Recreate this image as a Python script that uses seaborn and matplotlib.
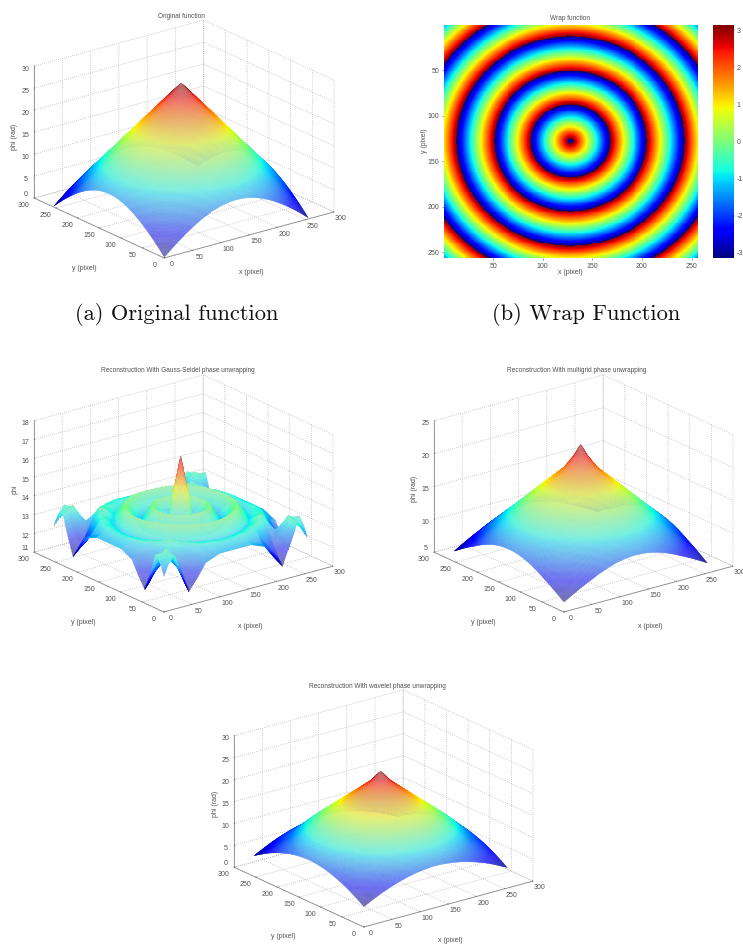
import numpy as np
import matplotlib
matplotlib.use("Agg")
import matplotlib.pyplot as plt
import seaborn as sns
from mpl_toolkits.mplot3d import proj3d

fig_w = 743
fig_h = 944

# radial height profiles (r in pixels from the centre)
orig_r = [0, 45, 90, 135, 181]
orig_phi = [29.5, 22.2, 14.8, 7.5, 0.0]

multi_r = [0, 10, 25, 62, 95, 128, 150, 170, 181]
multi_phi = [23.7, 21.8, 19.8, 16.5, 13.5, 10.6, 8.7, 7.2, 6.4]

wave_r = [0, 15, 39, 72, 100, 128, 155, 181]
wave_phi = [25.3, 22.8, 20.0, 16.2, 13.0, 9.4, 7.0, 4.5]

gs_r = [0, 5, 10, 15, 20, 28, 34, 40, 48, 58, 68, 78, 87, 96, 106, 115, 125, 134, 145, 153, 165, 181]
gs_phi = [17.0, 16.0, 15.0, 14.0, 13.2, 13.2, 13.9, 14.3, 13.8, 13.3, 13.8, 14.3, 13.9, 13.5, 13.9, 14.2, 13.8, 13.4, 13.8, 14.2, 13.6, 13.0]
# Gauss-Seidel surface along its four edges
gs_edge_t = [0, 8, 20, 30, 45, 60, 75, 100, 128, 156, 181, 196, 211, 226, 236, 248, 256]
gs_edge_phi = [12.8, 13.4, 13.9, 12.9, 11.7, 12.3, 13.0, 13.3, 13.3, 13.3, 13.0, 12.3, 11.7, 12.9, 13.9, 13.4, 12.8]
gs_edge_d = [0, 8, 20, 35, 55]
gs_edge_w = [1.0, 0.85, 0.5, 0.2, 0.0]

# wrap function: radii where the phase jumps and its unwrapped value there
wrap_r = [0, 3, 40, 77, 115, 153, 191]
wrap_phase = [3.6, 3.14, -3.14, -9.42, -15.7, -21.98, -28.26]

xy_ticks = [0, 50, 100, 150, 200, 250, 300]
img_ticks = [50, 100, 150, 200, 250]
cbar_ticks = [-3, -2, -1, 0, 1, 2, 3]

sns.set_style("white", {"grid.linestyle": (0, (1, 2)), "grid.color": "#a0a0a0"})
plt.rcParams["font.family"] = ["Liberation Sans", "DejaVu Sans"]
plt.rcParams["grid.linewidth"] = 0.5
plt.rcParams["axes.unicode_minus"] = False

fig = plt.figure(figsize=(fig_w / 100, fig_h / 100), dpi=100)
text_color = "#505050"

grid = np.arange(1, 257, 2)
X, Y = np.meshgrid(grid, grid)
R = np.hypot(X - 128.5, Y - 128.5)

elev = np.radians(20.7)
azim = np.radians(-127.5)
view = np.array([np.cos(elev) * np.cos(azim), np.cos(elev) * np.sin(azim), np.sin(elev)])


def label(x, y, s, size=5, rotation=0):
    fig.text(x / fig_w, 1 - y / fig_h, s, ha="center", va="center", fontsize=size,
             color=text_color, rotation=rotation)


def place_axes(ax, left, origin, right):
    # fit the square 3d axes so the floor corners land on these pixels
    M = ax.get_proj()
    xs = [0, 0, 300]
    ys = [300, 0, 0]
    zs = [ax.get_zlim()[0]] * 3
    u, v, _ = proj3d.proj_transform(np.array(xs, float), np.array(ys, float), np.array(zs, float), M)
    x0, x1 = ax.viewLim.intervalx
    y0, y1 = ax.viewLim.intervaly
    fu = (u - x0) / (x1 - x0)
    fv = (v - y0) / (y1 - y0)
    s = (right[0] - left[0]) / (fu[2] - fu[0])
    px_left = left[0] - fu[0] * s
    px_bottom = (fig_h - origin[1]) - fv[1] * s
    ax.set_position([px_left / fig_w, px_bottom / fig_h, s / fig_w, s / fig_h])


def mesh_colors(Z, z_ticks):
    # the dense mesh lines mix with the paper: paler where the surface faces the viewer,
    # saturated where it turns away and the lines pile up
    jet = plt.get_cmap("jet")((Z - Z.min()) / (Z.max() - Z.min()))
    z_scale = 141 / (z_ticks[-1] - z_ticks[0])
    xy_scale = 214 / 300
    gy, gx = np.gradient(Z * z_scale, 2 * xy_scale)
    norm = np.sqrt(gx ** 2 + gy ** 2 + 1)
    facing = np.abs(-gx * view[0] - gy * view[1] + view[2]) / norm
    cover = np.clip(0.18 / np.maximum(facing, 0.01) + 0.3, 0.45, 1.0)[..., None]
    out = jet.copy()
    out[..., :3] = jet[..., :3] * cover + 0.87 * (1 - cover)
    return out


def surface(Z, z_ticks, left, origin, right, title, zlabel, title_pos, zlabel_x):
    ax = fig.add_subplot(projection="3d", proj_type="ortho")
    ax.patch.set_alpha(0)
    ax.view_init(elev=20.7, azim=-127.5)
    ax.set_box_aspect((214, 214, 141))
    ax.set_xlim(0, 300)
    ax.set_ylim(0, 300)
    ax.set_zlim(z_ticks[0], z_ticks[-1])
    ax.set_xticks(xy_ticks)
    ax.set_yticks(xy_ticks)
    ax.set_zticks(z_ticks)
    ax.tick_params(labelsize=5, pad=-1.5, colors=text_color)
    ax.tick_params(axis="y", pad=-0.8)
    ax.tick_params(axis="z", pad=-4.5)
    for axis in [ax.xaxis, ax.yaxis, ax.zaxis]:
        axis.set_pane_color((1, 1, 1, 0))
        axis.pane.set_edgecolor((1, 1, 1, 0))
        axis.line.set_color("#8c8c8c")
        axis.line.set_linewidth(0.6)
        axis._axinfo["tick"]["linewidth"] = {True: 0.4, False: 0.4}
        axis._axinfo["tick"]["inward_factor"] = 0.0
        axis._axinfo["tick"]["outward_factor"] = 0.08
    for axis in [ax.xaxis, ax.yaxis]:
        for tick in axis.get_major_ticks():
            tick.label1.set_va("bottom")
    ax.zaxis.get_major_ticks()[0].label1.set_va("bottom")
    ax.plot_surface(X, Y, Z, rstride=1, cstride=1, facecolors=mesh_colors(Z, z_ticks),
                    shade=False, linewidth=0.25, antialiased=True)
    place_axes(ax, left, origin, right)
    label(title_pos[0], title_pos[1], title, size=4.7)
    label(origin[0] - 80, origin[1] + 10, "y (pixel)")
    label(origin[0] + 87, origin[1] + 14, "x (pixel)")
    label(zlabel_x, left[1] - 62, zlabel, rotation=90)
    return ax


z_orig = np.interp(R, orig_r, orig_phi)
z_multi = np.interp(R, multi_r, multi_phi)
z_wave = np.interp(R, wave_r, wave_phi)

# Gauss-Seidel: rings from the radial profile, pulled to the edge profile near the border
z_gs = np.interp(R, gs_r, gs_phi)
d_left, d_right, d_low, d_high = X - 1, 256 - X, Y - 1, 256 - Y
dist = np.minimum.reduce([d_left, d_right, d_low, d_high])
along = np.where(np.minimum(d_left, d_right) < np.minimum(d_low, d_high), Y, X)
w = np.interp(dist, gs_edge_d, gs_edge_w)
z_gs = z_gs * (1 - w) + np.interp(along, gs_edge_t, gs_edge_phi) * w

surface(z_orig, [0, 5, 10, 15, 20, 25, 30], (34, 199), (164, 258), (334, 212),
        "Original function", "phi (rad)", (181, 16), 15)
surface(z_gs, [11, 12, 13, 14, 15, 16, 17, 18], (34, 551), (163, 612), (333, 567),
        "Reconstruction With Gauss-Seidel phase unwrapping", "phi", (178, 371), 15)
surface(z_multi, [5, 10, 15, 20, 25], (434, 551), (563, 612), (733, 567),
        "Reconstruction With multigrid phase unwrapping", "phi (rad)", (577, 371), 415)
surface(z_wave, [0, 5, 10, 15, 20, 25, 30], (234, 866), (363, 927), (533, 882),
        "Reconstruction With wavelet phase unwrapping", "phi (rad)", (377, 686), 215)

# wrap function image
pix = np.arange(1, 257)
PX, PY = np.meshgrid(pix, pix)
phase = np.interp(np.hypot(PX - 128, PY - 128), wrap_r, wrap_phase)
wrapped = np.angle(np.exp(1j * phase))

ax_img = fig.add_axes([444 / fig_w, 1 - 258 / fig_h, 254 / fig_w, 233 / fig_h])
ax_cbar = fig.add_axes([713 / fig_w, 1 - 258 / fig_h, 21 / fig_w, 233 / fig_h])
sns.heatmap(wrapped, ax=ax_img, cbar_ax=ax_cbar, cmap="jet", vmin=-3.14, vmax=3.14,
            xticklabels=False, yticklabels=False, rasterized=True)
ax_img.set_xticks(np.array(img_ticks) - 0.5)
ax_img.set_xticklabels(img_ticks, rotation=0)
ax_img.set_yticks(np.array(img_ticks) - 0.5)
ax_img.set_yticklabels(img_ticks, rotation=0)
ax_img.tick_params(labelsize=5, length=1.5, width=0.4, pad=2, left=True, bottom=True, colors=text_color)
ax_cbar.set_yticks(cbar_ticks)
ax_cbar.set_yticklabels(cbar_ticks)
ax_cbar.tick_params(labelsize=5, length=1, width=0.3, pad=1, colors=text_color)
label(570, 18, "Wrap function", size=4.7)
label(570, 273, "x (pixel)")
label(424, 141, "y (pixel)", rotation=90)

# captions
for x, s in [(177, "(a) Original function"), (586, "(b) Wrap Function")]:
    fig.text(x / fig_w, 1 - 315 / fig_h, s, ha="center", va="center", fontsize=16.2,
             family=["cmr10", "DejaVu Serif"], color="#111111")

fig.savefig("out.png", dpi=100)
